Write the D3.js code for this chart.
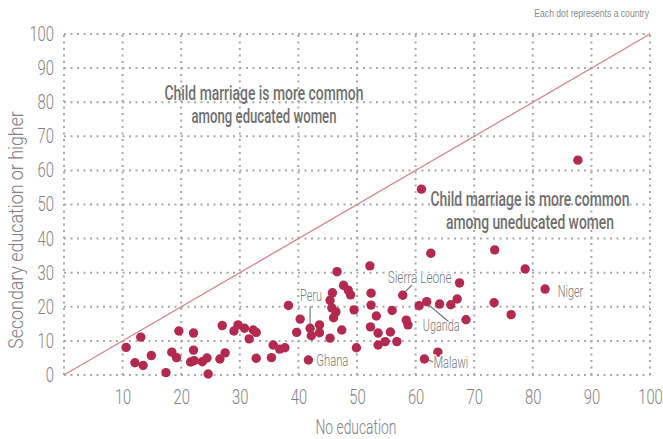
<!DOCTYPE html>
<html>
<head>
<meta charset="utf-8">
<script src="https://cdn.jsdelivr.net/npm/d3@7"></script>
<style>
  body { margin: 0; background: #fff; }
  svg text { font-family: Roboto, "DejaVu Sans", sans-serif; }
</style>
</head>
<body>
<div id="chart"></div>
<script>
// share of women married as children, by education level (%)
let noEducation = [10.6, 12.1, 13.1, 13.5, 14.9, 17.4, 18.4, 19.2, 19.6, 22.1, 22.1, 21.6, 22.2, 23.6, 24.4,
    24.6, 26.6, 27.5, 27.0, 29.0, 29.7, 30.8, 31.6, 32.3, 32.8, 32.8, 35.7, 35.4, 36.8, 37.7, 38.3, 39.7,
    40.3, 42.0, 42.2, 43.6, 43.6, 41.7, 45.8, 45.4, 45.7, 46.4, 46.0, 46.6, 47.7, 48.5, 48.9, 49.5, 47.4,
    45.4, 49.9, 52.2, 52.4, 52.4, 53.3, 56.0, 52.3, 53.6, 55.7, 54.8, 53.6, 56.8, 57.8, 58.4, 58.7, 60.6,
    61.9, 64.1, 61.5, 63.8, 62.6, 61.0, 66.0, 67.1, 67.5, 68.6, 73.5, 73.4, 76.3, 78.7, 82.1, 87.7];
let secondary = [8.1, 3.6, 11.1, 2.8, 5.7, 0.7, 6.7, 5.1, 12.9, 12.3, 7.3, 3.8, 4.2, 3.9, 5.0,
    0.3, 4.7, 6.5, 14.5, 12.9, 14.7, 13.7, 10.6, 13.2, 12.5, 4.9, 8.8, 5.1, 7.6, 8.0, 20.4, 12.5,
    16.4, 13.7, 11.5, 14.7, 12.4, 4.4, 24.1, 21.9, 19.7, 18.5, 16.8, 30.3, 26.3, 24.9, 23.5, 19.1, 13.2,
    10.8, 8.0, 32.0, 24.0, 20.5, 17.3, 18.9, 14.1, 12.3, 12.6, 9.8, 8.8, 9.8, 23.4, 16.1, 14.7, 20.3,
    21.5, 20.8, 4.7, 6.7, 35.7, 54.5, 20.6, 22.3, 27.0, 16.2, 36.7, 21.2, 17.7, 31.1, 25.2, 63.0];

let ticks = [0, 10, 20, 30, 40, 50, 60, 70, 80, 90, 100];
let xTicks = [10, 20, 30, 40, 50, 60, 70, 80, 90, 100];

// labelled countries
let labelNames = ['Peru', 'Ghana', 'Sierra Leone', 'Uganda', 'Malawi', 'Niger'];
let labelX = [42.0, 41.7, 57.8, 61.9, 61.5, 82.1];
let labelY = [13.7, 4.4, 23.4, 21.5, 4.7, 25.2];

let notes = [['Child marriage is more common', 'among educated women'],
             ['Child marriage is more common', 'among uneducated women']];

const width = 663, height = 439;
const margin = {left: 64, right: 13, top: 34, bottom: 64};

const svg = d3.select('#chart').append('svg')
    .attr('width', width)
    .attr('height', height);

const x = d3.scaleLinear().domain([0, 100]).range([margin.left, width - margin.right]);
const y = d3.scaleLinear().domain([0, 100]).range([height - margin.bottom, margin.top]);

const gridColor = '#a9a9a9';
const textColor = '#838383';

// the original uses a condensed face; squeeze text horizontally around its anchor
function squeeze(t, f) {
    let ax = +t.attr('x') || 0;
    t.attr('transform', `translate(${ax},0) scale(${f},1) translate(${-ax},0)`);
}
function fitWidth(t, target) {
    let w = t.node().getBBox().width;
    squeeze(t, target / w);
}

// dotted grid
svg.append('g')
    .selectAll('line')
    .data(ticks)
    .enter()
    .append('line')
    .attr('x1', x(0)).attr('x2', x(100))
    .attr('y1', d => y(d)).attr('y2', d => y(d))
    .attr('stroke', gridColor)
    .attr('stroke-width', 2)
    .attr('stroke-dasharray', '2,4.5');

svg.append('g')
    .selectAll('line')
    .data(ticks)
    .enter()
    .append('line')
    .attr('y1', y(0)).attr('y2', y(100))
    .attr('x1', d => x(d)).attr('x2', d => x(d))
    .attr('stroke', gridColor)
    .attr('stroke-width', 2)
    .attr('stroke-dasharray', '2,4.5');

// axes (labels only)
let axisY = d3.axisLeft(y).tickValues(ticks).tickSize(0).tickPadding(10);
let gy = svg.append('g')
    .attr('transform', `translate(${margin.left}, 0)`)
    .call(axisY);
gy.select('.domain').remove();
gy.selectAll('text')
    .attr('font-size', '20px')
    .attr('font-weight', 300)
    .attr('fill', textColor)
    .style('font-family', 'Roboto, "DejaVu Sans", sans-serif')
    .each(function () { squeeze(d3.select(this), 0.74); });

let axisX = d3.axisBottom(x).tickValues(xTicks).tickSize(0).tickPadding(15);
let gx = svg.append('g')
    .attr('transform', `translate(0, ${y(0)})`)
    .call(axisX);
gx.select('.domain').remove();
gx.selectAll('text')
    .attr('font-size', '20px')
    .attr('font-weight', 300)
    .attr('fill', textColor)
    .style('font-family', 'Roboto, "DejaVu Sans", sans-serif')
    .each(function () { squeeze(d3.select(this), 0.74); });

// axis titles
let xTitle = svg.append('text')
    .attr('x', 356)
    .attr('y', 434)
    .attr('text-anchor', 'middle')
    .attr('font-size', '20px')
    .attr('font-weight', 300)
    .attr('fill', textColor)
    .text('No education');
fitWidth(xTitle, 81);

let yTitle = svg.append('g')
    .attr('transform', 'translate(23, 230) rotate(-90)')
    .append('text')
    .attr('x', 0)
    .attr('y', 0)
    .attr('text-anchor', 'middle')
    .attr('font-size', '20px')
    .attr('font-weight', 300)
    .attr('fill', textColor)
    .text('Secondary education or higher');
fitWidth(yTitle, 238);

let topNote = svg.append('text')
    .attr('x', 649)
    .attr('y', 17)
    .attr('text-anchor', 'end')
    .attr('font-size', '11.5px')
    .attr('fill', '#8a8a8a')
    .style('font-family', '"Liberation Sans", Arial, sans-serif')
    .text('Each dot represents a country');
fitWidth(topNote, 115);

// diagonal
svg.append('line')
    .attr('x1', x(0)).attr('y1', y(0))
    .attr('x2', x(100)).attr('y2', y(100))
    .attr('stroke', '#d9848f')
    .attr('stroke-width', 1.3);

// region notes
let notePos = [[264, 100], [530, 206]];
let noteWidth = [[199, 145], [199, 168]];
notes.forEach((lines, i) => {
    lines.forEach((l, j) => {
        let t = svg.append('text')
            .attr('x', notePos[i][0])
            .attr('y', notePos[i][1] + j * 23)
            .attr('text-anchor', 'middle')
            .attr('font-size', '21px')
            .attr('font-weight', 500)
            .attr('fill', '#707070')
            .text(l);
        fitWidth(t, noteWidth[i][j]);
    });
});

// leader lines for country labels, in pixels relative to the labelled dot
let leaders = [
    [[0, -22], [0, -3]],
    null,
    [[9, -10], [1.5, -2.5]],
    [[2.5, 3.5], [23, 21]],
    [[4, 1], [9, 3]],
    null
];
leaders.forEach((l, i) => {
    if (!l) return;
    let px = x(labelX[i]), py = y(labelY[i]);
    svg.append('line')
        .attr('x1', px + l[0][0]).attr('y1', py + l[0][1])
        .attr('x2', px + l[1][0]).attr('y2', py + l[1][1])
        .attr('stroke', '#7a7a7a')
        .attr('stroke-width', 1.2);
});

// points
svg.append('g')
    .selectAll('circle')
    .data(noEducation)
    .enter()
    .append('circle')
    .attr('cx', (d, i) => x(d))
    .attr('cy', (d, i) => y(secondary[i]))
    .attr('r', 4.7)
    .attr('fill', '#b3294f');

// country labels
let labelOffset = [[-10, -27], [8, 6], [-15, -12], [-4, 29], [9, 9], [12.6, 8]];
let labelWidth = [22, 32, 64, 37, 35, 26];
svg.append('g')
    .selectAll('text')
    .data(labelNames)
    .enter()
    .append('text')
    .attr('x', (d, i) => x(labelX[i]) + labelOffset[i][0])
    .attr('y', (d, i) => y(labelY[i]) + labelOffset[i][1])
    .attr('font-size', '16px')
    .attr('font-weight', 300)
    .attr('fill', '#7a7a7a')
    .attr('stroke', '#fff')
    .attr('stroke-width', 3)
    .attr('paint-order', 'stroke')
    .text(d => d)
    .each(function (d, i) { fitWidth(d3.select(this), labelWidth[i]); });
</script>
</body>
</html>
